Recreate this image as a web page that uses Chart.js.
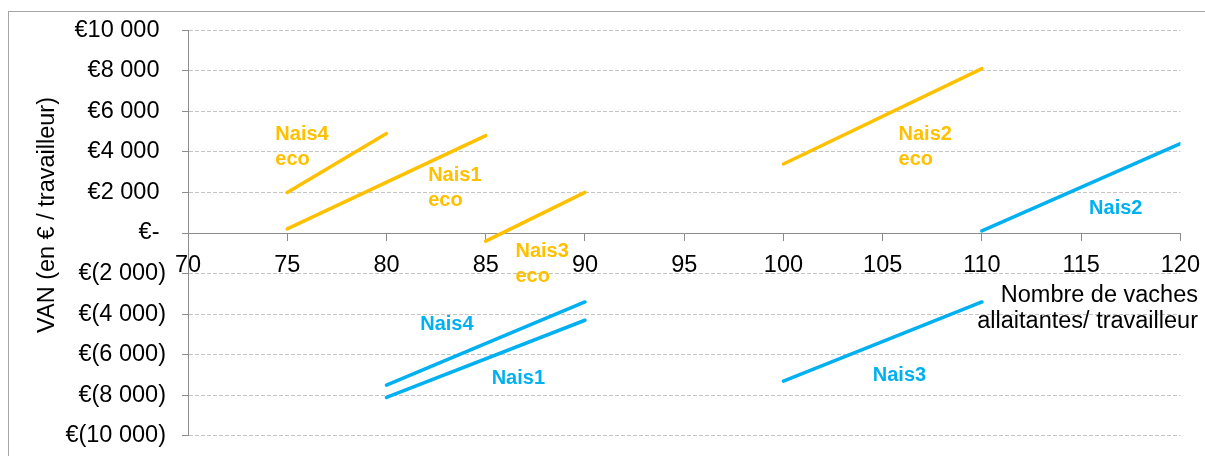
<!DOCTYPE html>
<html>
<head>
<meta charset="utf-8">
<script src="https://cdn.jsdelivr.net/npm/chart.js@4.4.1/dist/chart.umd.min.js"></script>
<style>
  html, body { margin: 0; padding: 0; background: #fff; overflow: hidden; }
  #wrap { position: relative; width: 1205px; height: 456px; overflow: hidden; }
  #frame { position: absolute; left: 8px; top: 11px; width: 1300px; height: 600px; border: 1px solid #a6a6a6; box-sizing: border-box; }
  #vanChart { position: absolute; left: 0; top: 0; }
</style>
</head>
<body>
<div id="wrap">
  <div id="frame"></div>
  <canvas id="vanChart" width="1211" height="466"></canvas>
</div>
<script>
// VAN par travailleur selon le nombre de vaches allaitantes
const ecoNames = ['Nais1', 'Nais2', 'Nais3', 'Nais4'];
const ecoX = [[75, 85], [100, 110], [85, 90], [75, 80]];
const ecoY = [[200, 4800], [3400, 8100], [-400, 2000], [2000, 4900]];

const baseNames = ['Nais1', 'Nais2', 'Nais3', 'Nais4'];
const baseX = [[80, 90], [110, 120], [100, 110], [80, 90]];
const baseY = [[-8100, -4300], [100, 4400], [-7300, -3400], [-7500, -3400]];

const xTickValues = [70, 75, 80, 85, 90, 95, 100, 105, 110, 115, 120];
const yTickValues = [-10000, -8000, -6000, -4000, -2000, 0, 2000, 4000, 6000, 8000, 10000];
const yTickLabels = ['€(10 000)', '€(8 000)', '€(6 000)', '€(4 000)', '€(2 000)', '€-',
                     '€2 000', '€4 000', '€6 000', '€8 000', '€10 000'];

const yTitle = 'VAN (en € / travailleur)';
const xTitle = ['Nombre de vaches', 'allaitantes/ travailleur'];

// where each series name sits (data coordinates)
const ecoLabelAt = [[82.1, 2850], [105.8, 4870], [86.5, -890], [74.4, 4870]];
const baseLabelAt = [[85.3, -7180], [115.4, 1230], [104.5, -7030], [81.7, -4520]];

const ORANGE = '#FFC000';
const BLUE = '#00B0F0';
const FONT = '"Liberation Sans", Arial, sans-serif';

function makeSegment(name, xs, ys, color) {
    return {
        label: name,
        data: xs.map((x, i) => ({ x: x, y: ys[i] })),
        borderColor: color,
        backgroundColor: color,
        borderWidth: 3.5,
        borderCapStyle: 'round',
        pointRadius: 0,
        fill: false,
        tension: 0
    };
}

const datasets = [
    ...ecoNames.map((n, i) => makeSegment(n + ' eco', ecoX[i], ecoY[i], ORANGE)),
    ...baseNames.map((n, i) => makeSegment(n, baseX[i], baseY[i], BLUE))
];

const textPlugin = {
    id: 'textPlugin',
    afterDatasetsDraw(chart) {
        const ctx = chart.ctx;
        const xs = chart.scales.x, ys = chart.scales.y;
        ctx.save();
        ctx.textBaseline = 'middle';
        ctx.textAlign = 'left';
        ctx.font = 'bold 20px ' + FONT;

        ctx.fillStyle = ORANGE;
        ecoNames.forEach((n, i) => {
            const px = xs.getPixelForValue(ecoLabelAt[i][0]);
            const py = ys.getPixelForValue(ecoLabelAt[i][1]);
            ctx.fillText(n, px, py);
            ctx.fillText('eco', px, py + 25);
        });

        ctx.fillStyle = BLUE;
        baseNames.forEach((n, i) => {
            const px = xs.getPixelForValue(baseLabelAt[i][0]);
            const py = ys.getPixelForValue(baseLabelAt[i][1]);
            ctx.fillText(n, px, py);
        });

        // axis titles
        ctx.fillStyle = '#000';
        ctx.font = '23.5px ' + FONT;
        ctx.textAlign = 'right';
        ctx.fillText(xTitle[0], 1198, 296);
        ctx.fillText(xTitle[1], 1198, 322);

        ctx.translate(48, 215);
        ctx.rotate(-Math.PI / 2);
        ctx.textAlign = 'center';
        ctx.fillText(yTitle, 0, 0);
        ctx.restore();
    }
};

new Chart(document.getElementById('vanChart'), {
    type: 'line',
    data: { datasets: datasets },
    options: {
        responsive: false,
        animation: false,
        layout: { padding: { left: 0, top: 29, right: 24, bottom: 10 } },
        plugins: {
            legend: { display: false },
            tooltip: { enabled: false }
        },
        scales: {
            x: {
                type: 'linear',
                position: { y: 0 },
                min: 70,
                max: 120,
                afterBuildTicks: (scale) => { scale.ticks = xTickValues.map(v => ({ value: v })); },
                grid: { drawOnChartArea: false, drawTicks: true, tickLength: 7, color: '#8c8c8c' },
                border: { color: '#8c8c8c', width: 1 },
                ticks: { color: '#000', font: { family: FONT, size: 23.5 }, padding: 11, maxRotation: 0 }
            },
            y: {
                type: 'linear',
                position: 'left',
                min: -10000,
                max: 10000,
                afterFit: (scale) => { scale.width = 188; },
                afterBuildTicks: (scale) => { scale.ticks = yTickValues.map(v => ({ value: v })); },
                grid: {
                    color: (c) => (c.tick && c.tick.value === 0) ? 'rgba(0,0,0,0)' : '#c4c4c4',
                    tickColor: '#8c8c8c',
                    tickLength: 6
                },
                border: { color: '#8c8c8c', width: 1, dash: [4, 2] },
                ticks: {
                    color: '#000',
                    font: { family: FONT, size: 23.5 },
                    padding: 16,
                    callback: (v, i) => {
                        const lbl = yTickLabels[i];
                        return v >= 0 ? lbl + ' ' : lbl;
                    }
                }
            }
        }
    },
    plugins: [textPlugin]
});
</script>
</body>
</html>
